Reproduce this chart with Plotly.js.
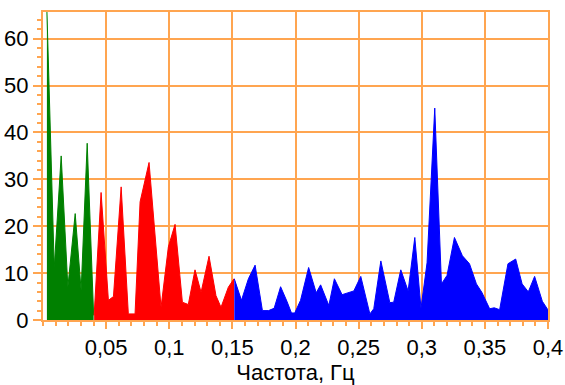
<!DOCTYPE html>
<html>
<head>
<meta charset="utf-8">
<script src="https://cdn.plot.ly/plotly-3.0.1.min.js"></script>
<style>html,body{margin:0;padding:0;background:#fff;}#chart{width:565px;height:385px;}</style>
</head>
<body>
<div id="chart"></div>
<script>
// VLF band (green)
const vlfFreq = [0.0031, 0.0089, 0.0144, 0.0197, 0.0255, 0.0302, 0.0350, 0.0401];
const vlfPower = [66.0, 11.2, 35.0, 7.0, 22.7, 6.3, 37.7, 1.0];
// LF band (red)
const lfFreq = [0.0405, 0.0460, 0.0518, 0.0558, 0.0619, 0.0676, 0.0729, 0.0769, 0.0840, 0.0935, 0.0993, 0.1046, 0.1104, 0.1151, 0.1204, 0.1252, 0.1315, 0.1370, 0.1410, 0.1468, 0.1513];
const lfPower = [1.0, 27.2, 4.2, 5.0, 28.4, 1.3, 1.3, 25.2, 33.6, 2.7, 15.6, 20.4, 3.8, 3.3, 10.7, 5.9, 13.6, 5.2, 2.7, 7.0, 8.8];
// HF band (blue)
const hfFreq = [0.1515, 0.1572, 0.1627, 0.1680, 0.1738, 0.1786, 0.1831, 0.1882, 0.1932, 0.1968, 0.1994, 0.2040, 0.2104, 0.2164, 0.2199, 0.2264, 0.2308, 0.2369, 0.2462, 0.2517, 0.2589, 0.2620, 0.2676, 0.2747, 0.2778, 0.2834, 0.2892, 0.2945, 0.2994, 0.3042, 0.3103, 0.3156, 0.3200, 0.3259, 0.3322, 0.3378, 0.3433, 0.3476, 0.3538, 0.3574, 0.3617, 0.3683, 0.3744, 0.3795, 0.3844, 0.3894, 0.3955, 0.4001];
const hfPower = [8.8, 4.2, 8.8, 11.7, 2.0, 2.0, 2.5, 7.1, 4.0, 1.5, 1.5, 4.2, 11.2, 5.8, 7.5, 3.1, 8.8, 5.4, 6.2, 9.3, 1.3, 2.4, 12.6, 3.7, 3.8, 10.7, 6.2, 17.6, 2.5, 12.2, 45.2, 7.7, 9.5, 17.6, 13.7, 12.0, 7.7, 5.9, 2.4, 2.6, 2.2, 12.0, 13.0, 7.7, 6.0, 9.3, 4.0, 2.1];

const xTickVals = [0.05, 0.1, 0.15, 0.2, 0.25, 0.3, 0.35, 0.4];
const xTickText = ["0,05", "0,1", "0,15", "0,2", "0,25", "0,3", "0,35", "0,4"];
const yTickVals = [0, 10, 20, 30, 40, 50, 60];
const xTitle = "Частота, Гц";

const orange = "#FFA550";
function band(x, y, color) {
  return {x: x, y: y, type: "scatter", mode: "lines", fill: "tozeroy",
          fillcolor: color, line: {color: color, width: 1, shape: "linear"},
          hoverinfo: "skip", showlegend: false};
}
const data = [
  band(vlfFreq, vlfPower, "#008000"),
  band(lfFreq, lfPower, "#FF0000"),
  band(hfFreq, hfPower, "#0000FF")
];
const layout = {
  width: 565, height: 385,
  margin: {l: 43, r: 17, t: 12, b: 65, pad: 0},
  paper_bgcolor: "#fff", plot_bgcolor: "#fff",
  font: {family: "Liberation Sans, Arial, sans-serif", size: 22, color: "#000"},
  showlegend: false,
  xaxis: {
    range: [0, 0.4], tickmode: "array", tickvals: xTickVals, ticktext: xTickText,
    showgrid: true, gridcolor: orange, gridwidth: 2,
    showline: true, linecolor: orange, linewidth: 2, mirror: true,
    ticks: "outside", ticklen: 7, tickcolor: orange, tickwidth: 2,
    minor: {dtick: 0.01, tick0: 0, ticks: "outside", ticklen: 4, tickcolor: orange, tickwidth: 2, showgrid: false},
    zeroline: false,
    title: {text: xTitle, font: {size: 22}, standoff: 10}
  },
  yaxis: {
    range: [0, 65.7], tickmode: "array", tickvals: yTickVals,
    showgrid: true, gridcolor: orange, gridwidth: 2,
    showline: true, linecolor: orange, linewidth: 2, mirror: true,
    ticks: "outside", ticklen: 8, tickcolor: orange, tickwidth: 2,
    minor: {dtick: 2, tick0: 0, ticks: "outside", ticklen: 4, tickcolor: orange, tickwidth: 2, showgrid: false},
    zeroline: false
  }
};
Plotly.newPlot("chart", data, layout, {staticPlot: true, displayModeBar: false});
</script>
</body>
</html>
